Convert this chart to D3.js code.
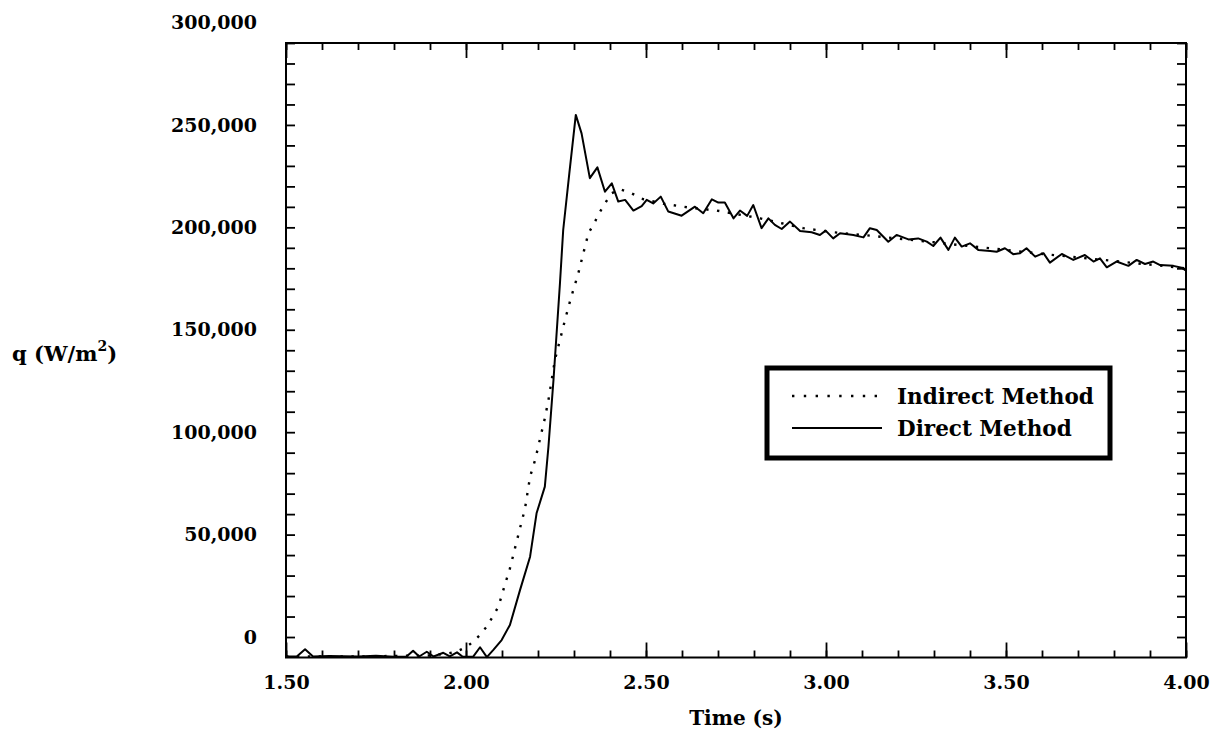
<!DOCTYPE html>
<html>
<head>
<meta charset="utf-8">
<script src="https://cdn.jsdelivr.net/npm/d3@7"></script>
<style>
  body { margin: 0; background: #fff; }
  text { font-family: "DejaVu Serif", serif; font-weight: bold; fill: #000; }
</style>
</head>
<body>
<div id="chart"></div>
<script>
// heat flux vs time
var directTime = [1.50, 1.53, 1.553, 1.575, 1.62, 1.70, 1.75, 1.80, 1.835, 1.853, 1.87, 1.891, 1.91, 1.937, 1.955, 1.975, 1.99, 2.02, 2.039, 2.058,
  2.076, 2.099, 2.122, 2.15, 2.178, 2.196, 2.219, 2.229, 2.243, 2.261, 2.270, 2.287, 2.305, 2.321, 2.344, 2.365, 2.386, 2.405, 2.423, 2.442,
  2.465, 2.488, 2.502, 2.52, 2.541, 2.562, 2.599, 2.636, 2.659, 2.683, 2.701, 2.719, 2.743, 2.761, 2.781, 2.798, 2.821, 2.84, 2.858, 2.877,
  2.90, 2.928, 2.96, 2.983, 2.999, 3.02, 3.039, 3.076, 3.104, 3.122, 3.141, 3.173, 3.196, 3.229, 3.256, 3.28, 3.298, 3.318, 3.34, 3.358,
  3.377, 3.40, 3.423, 3.456, 3.474, 3.497, 3.52, 3.539, 3.557, 3.581, 3.604, 3.622, 3.655, 3.687, 3.719, 3.743, 3.761, 3.78, 3.807, 3.84,
  3.863, 3.886, 3.909, 3.928, 3.965, 3.988, 4.00];
var directFlux = [-9500, -9500, -6000, -9500, -9300, -9500, -9200, -9600, -9500, -6700, -9500, -7200, -9500, -7700, -9500, -7500, -9500, -9600, -5000, -9800,
  -6300, -1500, 5900, 22900, 39200, 60400, 73400, 92900, 125500, 172700, 198700, 226400, 254900, 245900, 224000, 229300, 217400, 221500, 212600, 213400,
  208200, 210400, 213400, 211700, 215000, 207700, 205700, 210100, 206900, 213700, 212100, 212100, 204400, 208200, 205600, 210900, 199600, 204400, 201200, 199200,
  202800, 198200, 197600, 196300, 198400, 194600, 197100, 196300, 195100, 199600, 198700, 193000, 196300, 194100, 194600, 193000, 190900, 195000, 189000, 195000,
  190600, 192200, 189000, 188500, 188100, 189800, 186900, 187400, 189800, 185700, 187400, 182800, 187000, 184100, 186500, 183300, 184900, 180500, 183300, 181200,
  184100, 182100, 183300, 181600, 181200, 180300, 178800];

var indirectTime = [1.50, 1.70, 1.90, 1.95, 1.974, 2.002, 2.02, 2.039, 2.057, 2.074, 2.09, 2.106, 2.122, 2.136, 2.15, 2.164, 2.178, 2.192, 2.206, 2.219,
  2.229, 2.247, 2.275, 2.29, 2.312, 2.326, 2.34, 2.356, 2.37, 2.386, 2.404, 2.428, 2.46, 2.493, 2.55, 2.617, 2.696, 2.817, 2.877, 2.937,
  3.02, 3.131, 3.20, 3.30, 3.40, 3.50, 3.603, 3.70, 3.80, 3.90, 4.00];
var indirectFlux = [-9500, -9500, -9000, -8000, -7200, -4700, -2300, 1000, 5000, 9900, 14800, 24300, 33500, 43300, 53100, 62800, 78300, 86400, 97000, 106800,
  115700, 135300, 154800, 164600, 177600, 187400, 197100, 202000, 206900, 211700, 216600, 218600, 216600, 213700, 211500, 209700, 208200, 204400, 202000, 199600,
  197600, 195800, 194500, 192700, 190800, 189000, 187000, 185300, 183600, 181800, 180000];

var xMinor = d3.range(1.5, 4.001, 0.1);
var xMajor = [1.5, 2.0, 2.5, 3.0, 3.5, 4.0];
var yMinor = d3.range(0, 290001, 10000);
var yLabels = [0, 50000, 100000, 150000, 200000, 250000, 300000];

var legendNames = ["Indirect Method", "Direct Method"];

var width = 1216, height = 739;
var margin = {top: 43, right: 30, bottom: 81.5, left: 286};

var svg = d3.select("#chart").append("svg")
    .attr("width", width)
    .attr("height", height);

var x = d3.scaleLinear().domain([1.5, 4.0]).range([margin.left, width - margin.right]);
var y = d3.scaleLinear().domain([-10000, 290000]).range([height - margin.bottom, margin.top]);

var x0 = x.range()[0], x1 = x.range()[1], y0 = y.range()[0], y1 = y.range()[1];

function ticksOnly(axis) {
  return function(g) {
    g.call(axis);
    g.select(".domain").remove();
    g.selectAll("text").remove();
    g.selectAll("line").attr("stroke", "#000").attr("stroke-width", 1.8);
  };
}

// inward ticks on all four sides
svg.append("g").attr("transform", "translate(0," + y0 + ")")
  .call(ticksOnly(d3.axisBottom(x).tickValues(xMinor).tickSize(-7)));
svg.append("g").attr("transform", "translate(0," + y0 + ")")
  .call(ticksOnly(d3.axisBottom(x).tickValues(xMajor).tickSize(-15)));
svg.append("g").attr("transform", "translate(0," + y1 + ")")
  .call(ticksOnly(d3.axisTop(x).tickValues(xMinor).tickSize(-7)));
svg.append("g").attr("transform", "translate(0," + y1 + ")")
  .call(ticksOnly(d3.axisTop(x).tickValues(xMajor).tickSize(-15)));
svg.append("g").attr("transform", "translate(" + x0 + ",0)")
  .call(ticksOnly(d3.axisLeft(y).tickValues(yMinor).tickSize(-9)));
svg.append("g").attr("transform", "translate(" + x1 + ",0)")
  .call(ticksOnly(d3.axisRight(y).tickValues(yMinor).tickSize(-9)));

// labels
var xLab = svg.append("g").attr("transform", "translate(0," + y0 + ")")
  .call(d3.axisBottom(x).tickValues(xMajor).tickSize(0).tickPadding(18).tickFormat(d3.format(".2f")));
xLab.select(".domain").remove();
xLab.selectAll("text").attr("font-size", 19).attr("font-family", null);

var yLab = svg.append("g").attr("transform", "translate(" + x0 + ",0)")
  .call(d3.axisLeft(y).tickValues(yLabels).tickSize(0).tickPadding(29).tickFormat(d3.format(",")));
yLab.select(".domain").remove();
yLab.selectAll("text").attr("font-size", 19).attr("font-family", null);

// frame
svg.append("rect")
  .attr("x", x0).attr("y", y1)
  .attr("width", x1 - x0).attr("height", y0 - y1)
  .attr("fill", "none").attr("stroke", "#000").attr("stroke-width", 2);

var line = d3.line()
  .x(function(d) { return x(d[0]); })
  .y(function(d) { return y(d[1]); });

var indirect = d3.zip(indirectTime, indirectFlux);
var direct = d3.zip(directTime, directFlux);

svg.append("path").datum(indirect)
  .attr("d", line)
  .attr("fill", "none").attr("stroke", "#000")
  .attr("stroke-width", 2.4)
  .attr("stroke-dasharray", "2.4,8.5");

svg.append("path").datum(direct)
  .attr("d", line)
  .attr("fill", "none").attr("stroke", "#000")
  .attr("stroke-width", 2)
  .attr("stroke-linejoin", "round");

// axis titles
svg.append("text")
  .attr("x", (x0 + x1) / 2).attr("y", 725)
  .attr("text-anchor", "middle")
  .attr("font-size", 20)
  .text("Time (s)");

var yt = svg.append("text")
  .attr("x", 12).attr("y", 361)
  .attr("font-size", 21);
yt.append("tspan").text("q (W/m");
yt.append("tspan").attr("dy", -10).attr("font-size", 14).text("2");
yt.append("tspan").attr("dy", 10).text(")");

// legend
var legend = svg.append("g");
legend.append("rect")
  .attr("x", 767).attr("y", 368)
  .attr("width", 343).attr("height", 90)
  .attr("fill", "#fff").attr("stroke", "#000").attr("stroke-width", 5);

var rows = legend.selectAll("g.row").data(legendNames).enter()
  .append("g").attr("class", "row")
  .attr("transform", function(d, i) { return "translate(0," + (396 + i * 32) + ")"; });

rows.append("line")
  .attr("x1", 792).attr("x2", 882)
  .attr("stroke", "#000").attr("stroke-width", function(d, i) { return i == 0 ? 2.4 : 2; })
  .attr("stroke-dasharray", function(d, i) { return i == 0 ? "2.4,9.4" : null; });

rows.append("text")
  .attr("x", 897).attr("y", 0)
  .attr("dy", "0.35em")
  .attr("font-size", 21.5)
  .text(function(d) { return d; });
</script>
</body>
</html>
